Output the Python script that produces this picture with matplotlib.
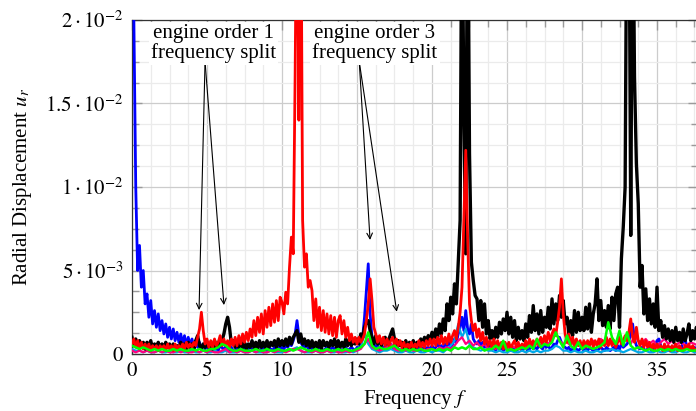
import matplotlib
matplotlib.use("Agg")
import matplotlib.pyplot as plt
import numpy as np
from matplotlib.ticker import MultipleLocator

plt.rcParams['font.family'] = ['Liberation Serif', 'DejaVu Serif']
plt.rcParams['mathtext.fontset'] = 'stix'

# radial displacement spectra, values in units of 1e-3
# fine series: step 0.125 Hz
black = [
    1.0, 0.5, 0.9, 0.4, 0.8, 0.4, 0.7, 0.3,
    0.7, 0.4, 0.8, 0.3, 0.6, 0.4, 0.7, 0.3,
    0.6, 0.3, 0.7, 0.4, 0.6, 0.3, 0.6, 0.4,
    0.5, 0.3, 0.7, 0.4, 0.6, 0.3, 0.7, 0.4,
    0.6, 0.3, 0.8, 1.1, 0.5, 0.3, 0.6, 0.4,
    0.7, 0.4, 0.6, 0.3, 0.8, 0.4, 0.7, 0.5,
    0.8, 1.2, 1.8, 2.2, 1.6, 0.6, 0.8, 0.4,
    0.7, 0.4, 0.8, 0.4, 0.7, 0.3, 0.6, 0.4,
    0.8, 0.4, 0.7, 0.3, 0.8, 0.4, 0.7, 0.4,
    0.8, 0.4, 0.7, 0.5, 0.8, 0.4, 0.9, 0.5,
    0.8, 0.5, 0.9, 0.5, 1.0, 0.6, 1.0, 1.2,
    1.4, 0.7, 1.2, 0.6, 0.9, 0.5, 0.8, 0.4,
    0.8, 0.4, 0.7, 0.4, 0.8, 0.3, 0.8, 0.5,
    0.7, 0.4, 0.8, 0.5, 0.9, 0.4, 0.8, 0.4,
    0.7, 0.4, 0.9, 0.5, 0.9, 0.5, 0.8, 0.6,
    0.9, 0.6, 1.2, 1.0, 1.6, 1.9, 2.0, 1.4,
    1.0, 0.6, 1.1, 0.6, 0.9, 0.5, 0.8, 1.0,
    0.6, 0.9, 1.2, 1.5, 0.9, 0.6, 0.8, 0.5,
    0.7, 0.4, 0.8, 0.4, 0.7, 0.4, 0.8, 0.4,
    0.7, 0.5, 0.9, 0.6, 1.0, 0.7, 1.1, 0.8,
    1.3, 0.9, 1.5, 1.0, 1.8, 1.2, 2.1, 1.4,
    3.0, 2.0, 3.4, 2.4, 4.2, 3.0, 5.5, 8.0,
    30.0, 14.0, 6.0, 30.0, 12.0, 5.5, 4.4, 3.5,
    3.3, 2.0, 3.2, 1.6, 3.0, 1.2, 2.0, 0.9,
    1.4, 0.9, 1.6, 1.0, 1.9, 1.2, 2.1, 1.4,
    2.5, 1.2, 2.2, 1.0, 2.0, 0.8, 1.6, 0.9,
    1.4, 0.8, 1.8, 1.0, 2.3, 1.3, 2.9, 1.4,
    2.4, 1.2, 2.6, 1.3, 2.2, 1.6, 2.8, 1.5,
    3.3, 1.8, 3.0, 2.0, 3.5, 2.2, 3.2, 1.8,
    2.2, 1.2, 2.0, 1.1, 2.6, 1.3, 2.5, 1.4,
    2.2, 1.4, 2.8, 1.5, 3.0, 1.3, 2.4, 3.0,
    4.5, 2.0, 3.2, 1.7, 2.6, 1.6, 2.9, 1.5,
    3.4, 2.0, 3.6, 4.0, 1.6, 5.7, 7.6, 10.0,
    30.0, 30.0, 7.1, 30.0, 16.6, 11.4, 9.0, 4.0,
    5.3, 2.4, 3.9, 2.0, 3.3, 1.8, 3.0, 1.6,
    4.0, 1.4, 2.0, 1.0, 1.7, 0.9, 1.5, 0.8,
    1.4, 0.7, 1.6, 0.8, 1.3, 0.7, 1.5, 0.8,
    1.2, 1.8, 0.8, 1.4, 0.9, 1.6, 1.0,
]

red = [
    0.6, 0.9, 0.4, 0.8, 0.3, 0.7, 0.3, 0.6,
    0.3, 0.6, 0.2, 0.5, 0.3, 0.5, 0.2, 0.5,
    0.3, 0.5, 0.2, 0.6, 0.3, 0.5, 0.2, 0.6,
    0.3, 0.5, 0.3, 0.6, 0.3, 0.7, 0.4, 0.6,
    0.4, 0.7, 0.5, 1.0, 1.5, 2.5, 1.4, 0.6,
    0.9, 0.4, 0.8, 0.4, 0.9, 0.5, 0.7, 1.1,
    0.5, 0.9, 0.5, 0.8, 0.4, 0.9, 0.5, 1.0,
    0.5, 1.1, 0.6, 1.2, 0.7, 1.3, 0.8, 1.5,
    1.0, 2.0, 1.1, 2.2, 1.3, 2.4, 1.2, 2.6,
    1.6, 2.8, 1.7, 3.0, 1.9, 3.2, 2.0, 3.4,
    3.1, 2.4, 3.7, 3.0, 5.2, 7.0, 6.0, 16.7,
    30.0, 14.0, 30.0, 8.0, 5.2, 6.0, 4.0, 4.4,
    3.8, 2.0, 3.3, 1.6, 2.8, 1.4, 2.6, 1.3,
    2.4, 1.2, 2.3, 1.1, 2.2, 1.0, 2.0, 2.3,
    1.2, 2.0, 1.0, 1.6, 0.8, 1.2, 0.7, 1.0,
    0.6, 1.0, 0.7, 0.9, 1.2, 2.0, 3.0, 4.5,
    3.2, 1.6, 1.2, 0.7, 1.1, 0.6, 1.0, 0.5,
    0.9, 0.5, 0.8, 1.0, 0.5, 0.9, 0.5, 0.8,
    0.4, 0.7, 0.3, 0.6, 0.4, 0.7, 0.3, 0.6,
    0.4, 0.8, 0.4, 0.7, 0.4, 0.8, 0.5, 0.9,
    0.5, 0.9, 0.5, 1.0, 0.6, 1.1, 0.6, 1.0,
    0.6, 1.2, 0.7, 1.1, 1.4, 0.9, 1.6, 2.5,
    4.0, 8.0, 12.2, 7.0, 3.0, 2.0, 1.4, 1.8,
    1.0, 1.5, 0.8, 1.3, 0.6, 1.0, 0.5, 0.8,
    0.4, 0.9, 0.4, 0.8, 0.4, 0.7, 0.3, 0.7,
    0.4, 0.7, 0.3, 0.6, 0.8, 0.4, 0.7, 0.3,
    0.6, 0.4, 0.8, 0.4, 0.9, 0.5, 0.8, 0.5,
    0.9, 0.5, 1.0, 0.6, 1.1, 0.7, 1.3, 0.8,
    1.2, 1.5, 1.1, 1.9, 2.8, 4.5, 2.4, 1.2,
    0.7, 1.2, 0.6, 1.0, 0.5, 0.9, 0.5, 0.8,
    0.4, 0.8, 0.4, 0.8, 0.5, 0.9, 0.4, 0.8,
    0.5, 0.9, 0.4, 0.8, 0.5, 1.0, 0.5, 0.9,
    0.5, 0.8, 0.4, 0.7, 1.0, 0.6, 0.8, 1.1,
    0.8, 1.3, 2.1, 1.0, 0.7, 1.6, 0.8, 0.5,
    0.9, 0.4, 0.8, 0.4, 0.7, 0.3, 0.6, 0.3,
    0.6, 0.3, 0.5, 0.2, 0.6, 0.3, 0.5, 0.2,
    0.5, 0.3, 0.6, 0.2, 0.5, 0.3, 0.2, 0.5,
    0.3, 0.6, 0.2, 0.5, 0.3, 0.2, 0.5,
]

blue = [
    30.0, 20.0, 10.0, 5.0, 6.5, 4.0, 5.0, 3.0,
    3.6, 2.2, 3.2, 1.8, 2.6, 1.6, 2.4, 1.4,
    2.0, 1.2, 1.8, 1.0, 1.6, 0.9, 1.5, 0.8,
    1.3, 0.7, 1.2, 0.6, 1.1, 0.5, 1.0, 0.5,
    0.9, 0.4, 0.8, 0.4, 0.7, 0.3, 0.6, 0.3,
    0.5, 0.3, 0.6, 0.2, 0.5, 0.3, 0.2, 0.5,
    0.4, 0.2, 0.5, 0.3, 0.2, 0.4, 0.2, 0.2,
    0.3, 0.4, 0.2, 0.3, 0.4, 0.2, 0.3, 0.4,
    0.3, 0.2, 0.4, 0.3, 0.2, 0.3, 0.4, 0.3,
    0.2, 0.4, 0.3, 0.2, 0.4, 0.3, 0.5, 0.3,
    0.4, 0.3, 0.5, 0.4, 0.6, 0.5, 0.8, 1.2,
    2.0, 1.1, 0.7, 0.5, 0.4, 0.6, 0.3, 0.4,
    0.3, 0.4, 0.2, 0.3, 0.4, 0.3, 0.2, 0.3,
    0.4, 0.2, 0.3, 0.4, 0.3, 0.2, 0.4, 0.3,
    0.2, 0.3, 0.4, 0.2, 0.3, 0.4, 0.3, 0.2,
    0.4, 0.3, 0.6, 1.0, 2.2, 3.8, 5.4, 2.4,
    1.0, 0.6, 0.4, 0.5, 0.3, 0.4, 0.3, 0.5,
    0.3, 0.4, 0.6, 0.4, 0.3, 0.5, 0.3, 0.2,
    0.3, 0.2, 0.4, 0.3, 0.2, 0.3, 0.4, 0.2,
    0.3, 0.4, 0.2, 0.3, 0.5, 0.3, 0.4, 0.3,
    0.5, 0.3, 0.4, 0.6, 0.4, 0.5, 0.3, 0.6,
    0.5, 0.7, 0.4, 0.6, 0.9, 0.7, 1.2, 1.6,
    2.2, 1.4, 2.6, 1.5, 1.2, 1.8, 0.9, 0.7,
    0.6, 0.8, 0.5, 0.7, 0.4, 0.6, 0.3, 0.5,
    0.3, 0.4, 0.2, 0.5, 0.3, 0.4, 0.2, 0.3,
    0.4, 0.3, 0.2, 0.4, 0.3, 0.2, 0.3, 0.4,
    0.2, 0.3, 0.4, 0.2, 0.3, 0.5, 0.3, 0.4,
    0.3, 0.5, 0.4, 0.3, 0.6, 0.4, 0.5, 0.3,
    0.4, 0.6, 0.5, 0.8, 1.0, 0.7, 0.5, 0.4,
    0.3, 0.4, 0.2, 0.3, 0.4, 0.3, 0.2, 0.3,
    0.4, 0.2, 0.3, 0.2, 0.4, 0.3, 0.2, 0.3,
    0.2, 0.3, 0.4, 0.3, 0.2, 0.4, 0.3, 0.2,
    0.3, 0.4, 0.2, 0.5, 0.3, 0.6, 0.4, 0.5,
    0.6, 0.8, 1.2, 1.8, 0.9, 0.5, 0.4, 0.3,
    0.4, 0.3, 0.2, 0.3, 0.4, 0.2, 0.3, 0.5,
    0.8, 0.9, 0.5, 0.3, 0.4, 0.2, 0.3, 0.4,
    0.3, 0.2, 0.4, 0.3, 0.2, 0.3, 0.8, 0.9,
    0.4, 0.3, 0.2, 0.3, 0.4, 0.3, 0.2,
]

# coarse series: step 0.25 Hz
green = [
    0.5, 0.4, 0.3, 0.4,  0.3, 0.2, 0.3, 0.2,  0.3, 0.2, 0.2, 0.3,
    0.2, 0.3, 0.2, 0.2,  0.3, 0.2, 0.3, 0.2,  0.2, 0.3, 0.3, 0.4,
    0.6, 0.5, 0.3, 0.2,  0.2, 0.3, 0.2, 0.2,  0.2, 0.3, 0.2, 0.2,
    0.3, 0.2, 0.2, 0.3,  0.2, 0.2, 0.3, 0.2,  0.3, 0.4, 0.3, 0.2,
    0.2, 0.3, 0.2, 0.2,  0.3, 0.2, 0.2, 0.3,  0.2, 0.3, 0.2, 0.2,
    0.3, 0.4, 0.6, 1.3,  0.5, 0.3, 0.4, 0.3,  0.3, 0.4, 0.5, 0.3,
    0.2, 0.3, 0.2, 0.3,  0.2, 0.3, 0.2, 0.2,  0.3, 0.2, 0.3, 0.2,
    0.3, 0.2, 0.4, 0.3,  0.4, 0.3, 0.5, 0.3,  0.3, 0.4, 0.2, 0.3,
    0.3, 0.5, 0.3, 0.8,  0.2, 0.3, 0.2, 0.3,  0.4, 0.3, 0.5, 0.3,
    0.9, 0.4, 0.6, 0.5,  0.7, 1.3, 0.8, 0.4,  1.1, 0.5, 0.3, 0.7,
    0.3, 0.5, 0.4, 0.3,  0.4, 0.5, 0.7, 1.9,  1.0, 0.6, 1.4, 0.5,
    1.3, 0.5, 0.3, 0.4,  0.3, 0.2, 0.3, 0.2,  0.2, 0.3, 0.2, 0.3,
    0.2, 0.3, 0.2, 0.2,  0.3, 0.2, 0.2, 0.3,
]

magenta = [
    0.2, 0.1, 0.2, 0.1,  0.2, 0.1, 0.1, 0.2,  0.1, 0.2, 0.1, 0.1,
    0.2, 0.1, 0.2, 0.1,  0.1, 0.2, 0.1, 0.2,  0.1, 0.2, 0.1, 0.1,
    0.2, 0.3, 0.1, 0.2,  0.1, 0.2, 0.1, 0.1,  0.2, 0.1, 0.2, 0.1,
    0.1, 0.2, 0.1, 0.2,  0.2, 0.1, 0.2, 0.3,  0.3, 0.2, 0.1, 0.2,
    0.1, 0.2, 0.1, 0.1,  0.2, 0.1, 0.2, 0.1,  0.1, 0.2, 0.1, 0.2,
    0.2, 0.3, 0.6, 0.9,  0.4, 0.3, 0.2, 0.3,  0.4, 0.6, 0.3, 0.2,
    0.3, 0.2, 0.3, 0.2,  0.2, 0.3, 0.2, 0.3,  0.3, 0.2, 0.4, 0.3,
    0.4, 0.3, 0.5, 0.8,  1.0, 0.6, 0.8, 0.5,  0.7, 0.4, 0.6, 0.3,
    0.4, 0.3, 0.5, 0.4,  0.3, 0.5, 0.4, 0.3,  0.5, 0.4, 0.6, 0.5,
    0.7, 0.5, 0.8, 0.6,  0.9, 1.3, 0.8, 0.6,  0.7, 0.5, 0.8, 0.6,
    0.5, 0.7, 0.6, 0.8,  0.6, 0.9, 0.7, 0.5,  0.8, 0.6, 1.0, 0.7,
    0.9, 0.6, 1.1, 0.8,  0.7, 0.9, 0.6, 0.8,  0.5, 0.7, 0.9, 0.6,
    0.8, 0.5, 0.7, 0.6,  0.5, 0.7, 0.6, 0.5,
]

cyan = [
    0.3, 0.2, 0.2, 0.1,  0.2, 0.1, 0.1, 0.2,  0.1, 0.1, 0.2, 0.1,
    0.1, 0.2, 0.1, 0.1,  0.2, 0.1, 0.1, 0.2,  0.1, 0.1, 0.2, 0.1,
    0.1, 0.2, 0.1, 0.1,  0.1, 0.2, 0.1, 0.1,  0.2, 0.1, 0.1, 0.1,
    0.1, 0.2, 0.1, 0.1,  0.1, 0.2, 0.2, 0.3,  0.4, 0.2, 0.1, 0.1,
    0.1, 0.2, 0.1, 0.1,  0.2, 0.1, 0.1, 0.2,  0.1, 0.1, 0.2, 0.1,
    0.2, 0.4, 1.2, 0.6,  0.3, 0.2, 0.1, 0.2,  0.2, 0.3, 0.2, 0.1,
    0.1, 0.2, 0.1, 0.1,  0.2, 0.1, 0.1, 0.2,  0.1, 0.2, 0.2, 0.1,
    0.3, 0.5, 0.8, 1.8,  1.0, 1.5, 0.6, 0.4,  0.3, 0.2, 0.3, 0.2,
    0.2, 0.1, 0.2, 0.1,  0.1, 0.2, 0.1, 0.1,  0.2, 0.1, 0.2, 0.1,
    0.2, 0.1, 0.2, 0.2,  0.3, 0.5, 0.4, 0.2,  0.2, 0.1, 0.2, 0.1,
    0.1, 0.2, 0.1, 0.1,  0.2, 0.1, 0.2, 0.2,  0.3, 0.2, 0.2, 0.1,
    0.2, 0.3, 0.2, 0.1,  0.1, 0.2, 0.1, 0.1,  0.2, 0.1, 0.1, 0.2,
    0.1, 0.1, 0.2, 0.1,  0.1, 0.2, 0.1, 0.1,
]

xticks = [0, 5, 10, 15, 20, 25, 30, 35]
yticks = [0, 5, 10, 15, 20]
ytick_labels = ['$0$', r'$5\cdot10^{-3}$', r'$1\cdot10^{-2}$',
                r'$1.5\cdot10^{-2}$', r'$2\cdot10^{-2}$']

f_fine = np.arange(len(black)) * 0.125
f_coarse = np.arange(len(green)) * 0.25

fig = plt.figure(figsize=(6.96, 4.11), dpi=100)
ax = fig.add_axes([132/696, 57/411, 565.5/696, 334/411])

ax.plot(f_fine, blue, color='#0000ff', lw=2.0, zorder=3)
ax.plot(f_coarse, cyan, color='#00a8e8', lw=1.6, zorder=3)
ax.plot(f_coarse, magenta, color='#ff0080', lw=1.6, zorder=3)
ax.plot(f_fine, black, color='black', lw=2.4, zorder=4)
ax.plot(f_fine, red, color='#ff0000', lw=2.0, zorder=5)
ax.plot(f_coarse, green, color='#00ff00', lw=1.8, zorder=6)

ax.set_xlim(0, 37.7)
ax.set_ylim(0, 20)
ax.set_xticks(xticks)
ax.set_xticklabels([f'${t}$' for t in xticks])
ax.set_yticks(yticks)
ax.set_yticklabels(ytick_labels)
ax.xaxis.set_minor_locator(MultipleLocator(1.25))
ax.yaxis.set_minor_locator(MultipleLocator(1.25))
ax.grid(which='major', color='#cccccc', lw=0.9)
ax.grid(which='minor', color='#ebebeb', lw=0.9)
ax.set_axisbelow(True)
ax.tick_params(which='both', direction='in', top=True, right=True,
               color='#9a9a9a', labelsize=15, pad=6)
ax.tick_params(which='major', length=7, width=1.0)
ax.tick_params(which='minor', length=5, width=1.0)
for sp in ax.spines.values():
    sp.set_color('#333333')
    sp.set_linewidth(0.9)

ax.set_xlabel('Frequency $f$', fontsize=15, labelpad=5)
ax.set_ylabel('Radial Displacement $u_r$', fontsize=15, labelpad=8)

box = dict(facecolor='white', edgecolor='none', pad=1.5)
ax.text(5.45, 18.6, 'engine order 1\nfrequency split', ha='center', va='center',
        fontsize=15, linespacing=1.0, bbox=box, zorder=10)
ax.text(16.2, 18.6, 'engine order 3\nfrequency split', ha='center', va='center',
        fontsize=15, linespacing=1.0, bbox=box, zorder=10)

arrow = dict(arrowstyle='->', lw=0.8, color='black', shrinkA=0, shrinkB=0)
for start, end in [((4.87, 17.5), (4.47, 2.63)), ((4.87, 17.5), (6.13, 2.93)),
                   ((15.15, 17.5), (15.87, 6.83)), ((15.15, 17.5), (17.65, 2.53))]:
    ax.annotate('', xy=end, xytext=start, arrowprops=arrow, zorder=9)

fig.savefig('out.png', dpi=100)
